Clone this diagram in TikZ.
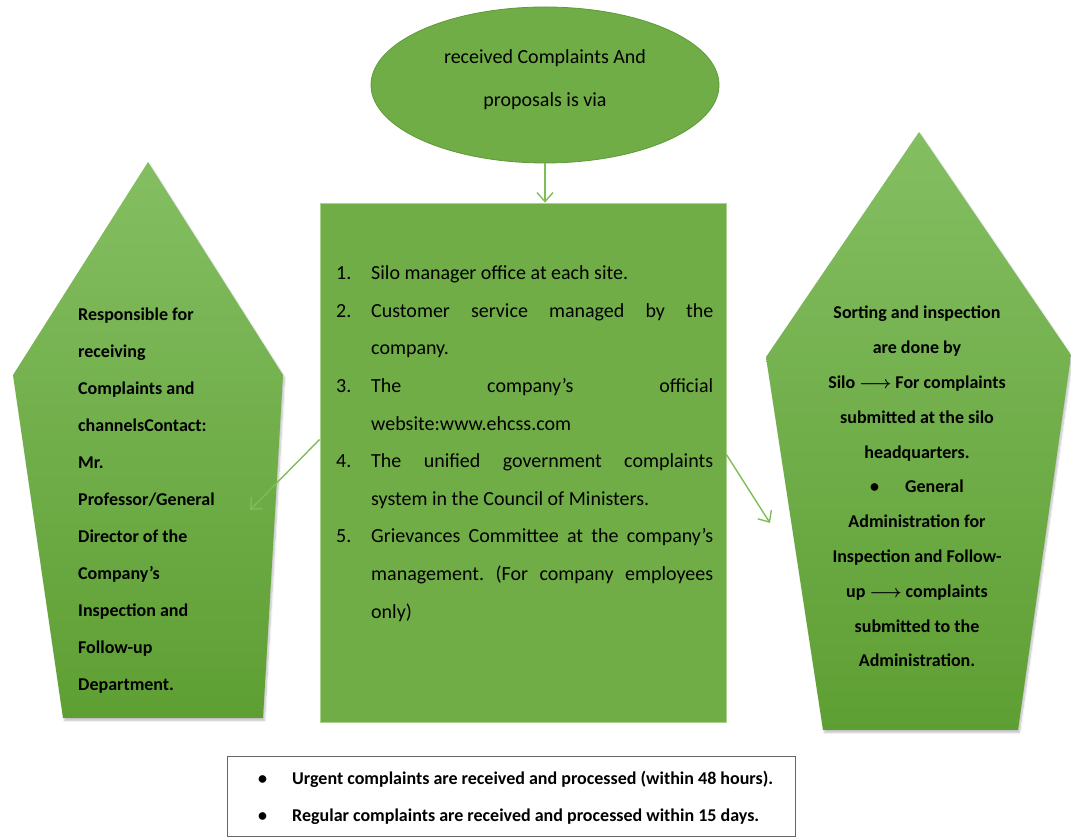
\documentclass[tikz,border=0pt]{standalone}
\usepackage{fontspec}
\setmainfont{Carlito}
\usetikzlibrary{shapes.geometric,arrows.meta,shadows.blur}
\definecolor{gmain}{HTML}{70AD47}
\definecolor{gedge}{HTML}{5E9A3A}
\definecolor{glight}{HTML}{A9D18E}
\definecolor{gtop}{HTML}{84BE62}
\definecolor{gbot}{HTML}{5E9F33}
\definecolor{garrow}{HTML}{7DBE57}
\newenvironment{gitems}{\list{}{\setlength{\topsep}{0pt}\setlength{\partopsep}{0pt}%
  \setlength{\parsep}{0pt}\setlength{\itemsep}{0pt}\setlength{\leftmargin}{35pt}%
  \setlength{\labelwidth}{35pt}\setlength{\labelsep}{0pt}%
  \renewcommand{\makelabel}[1]{##1\hfil}}}{\endlist}
\hbadness=10000
\frenchspacing
\begin{document}
\begin{tikzpicture}[x=1pt,y=1pt,
  conn/.style={draw=garrow, line width=1.4pt, -{Straight Barb[length=9pt,width=16pt,line width=1.4pt]}},
  penta/.style={top color=gtop, bottom color=gbot, draw=none,
    blur shadow={shadow xshift=1.5pt, shadow yshift=-2.5pt, shadow opacity=25, shadow blur steps=6}},
  boldtxt/.style={font=\bfseries\boldmath\fontsize{18}{37}\selectfont, inner sep=0pt}]
\useasboundingbox (0,0) rectangle (1071,838);
% pentagons
\path[penta] (148,676) -- (13,463) -- (63,120) -- (263,120) -- (283,463) -- cycle;
\path[penta] (919,706) -- (766,481) -- (823,108) -- (1018,108) -- (1071,483) -- cycle;
% ellipse
\node[ellipse, fill=gmain, draw=gedge, line width=0.8pt, minimum width=348pt, minimum height=156pt,
  inner sep=0pt] (top) at (545,753) {};
\node[align=center, inner sep=0pt, font=\fontsize{20}{43}\selectfont] (toptxt) at (545,758)
  {received Complaints And\\proposals is via};
% center box
\node[rectangle, fill=gmain, draw=glight, line width=0.8pt, minimum width=406pt, minimum height=519pt,
  inner sep=0pt] (box) at (523,375.5) {};
\node[anchor=north west, inner sep=0pt, text width=377pt, align=justify,
  font=\fontsize{20}{37.6}\selectfont] (list) at (336,596) {%
\begin{gitems}
\item[1.] Silo manager office at each site.
\item[2.] Customer service managed by the\linebreak company.
\item[3.] The company’s official\linebreak website:www.ehcss.com
\item[4.] The unified government complaints\linebreak system in the Council of Ministers.
\item[5.] Grievances Committee at the company’s\linebreak management. (For company employees\linebreak only)
\end{gitems}};
% left text
\node[boldtxt, anchor=north west, align=left] (lefttxt) at (78,530) {Responsible for\\receiving\\Complaints and\\channelsContact:\\Mr.\\Professor/General\\Director of the\\Company’s\\Inspection and\\Follow-up\\Department.};
% right text
\node[boldtxt, font=\bfseries\boldmath\fontsize{18}{34.8}\selectfont, anchor=north, align=center] (righttxt) at (917,532)
  {Sorting and inspection\\are done by\\Silo $\longrightarrow$ For complaints\\submitted at the silo\\headquarters.\\\textbullet\hspace{26pt}General\\Administration for\\Inspection and Follow-\\up $\longrightarrow$ complaints\\submitted to the\\Administration.};
% connectors
\coordinate (lend) at (250,328);
\coordinate (rend) at (770,315);
\draw[conn] (top.south) -- (top.south |- box.north);
\draw[conn] ([yshift=23pt]box.west) -- (lend);
\draw[conn] ([yshift=8pt]box.east) -- (rend);
% bottom note
\node[rectangle, draw=gray!80!black, line width=0.8pt, fill=white, minimum width=568pt, minimum height=80pt,
  inner sep=0pt] (note) at (511,42) {};
\node[boldtxt, anchor=north west, align=left] (notetxt) at (258,67)
  {\makebox[34pt][l]{\textbullet}Urgent complaints are received and processed (within 48 hours).\\
   \makebox[34pt][l]{\textbullet}Regular complaints are received and processed within 15 days.};
\end{tikzpicture}
\end{document}
